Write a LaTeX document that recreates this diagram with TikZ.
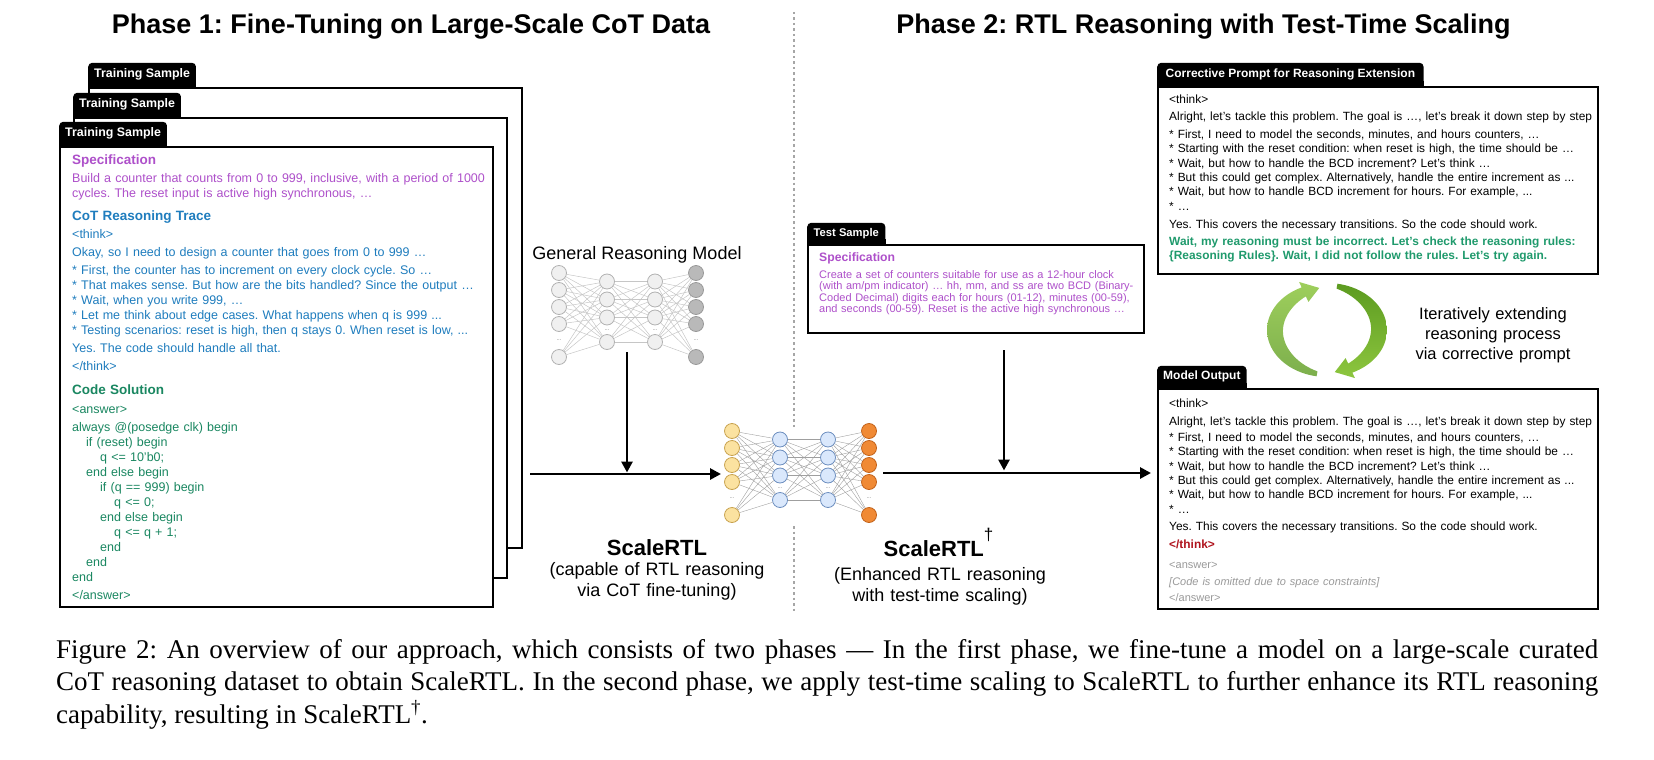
\documentclass[tikz,border=0pt]{standalone}
\usepackage{fontspec}
\setmainfont{Liberation Sans}
\newfontfamily\capfont{Liberation Serif}
\usetikzlibrary{positioning, arrows.meta, calc}
\frenchspacing

\definecolor{specpurple}{HTML}{AE50CA}
\definecolor{cotblue}{HTML}{1F7DBE}
\definecolor{codegreen}{HTML}{1A8761}
\definecolor{rulegreen}{HTML}{1F9A6C}
\definecolor{thinkred}{HTML}{B0141E}
\definecolor{answergray}{HTML}{9A9A9A}
\definecolor{loopgreen}{HTML}{8DC63F}
\definecolor{loopdark}{HTML}{5C9B20}
\definecolor{inyellow}{HTML}{FBE2A0}
\definecolor{inyellowline}{HTML}{C8A24E}
\definecolor{hidblue}{HTML}{DAE8FC}
\definecolor{hidblueline}{HTML}{6C8EBF}
\definecolor{outorange}{HTML}{F08A35}
\definecolor{outorangeline}{HTML}{C2621A}

\newcommand{\fsz}[2]{\fontsize{#1}{#2}\selectfont}

% network: prefix, x, y, input style, hidden style, output style, edge style
\newcommand{\drawnet}[7]{%
  \foreach \r/\dy in {1/0, 2/17, 3/34, 4/51, 5/84} {
    \node[neuron, #4] (#1-1-\r) at (#2, #3+\dy) {};
    \node[neuron, #6] (#1-4-\r) at (#2+137, #3+\dy) {};
  }
  \foreach \r/\dy in {1/8.5, 2/26.5, 3/44.5, 4/69} {
    \node[neuron, #5] (#1-2-\r) at (#2+48, #3+\dy) {};
    \node[neuron, #5] (#1-3-\r) at (#2+96, #3+\dy) {};
  }
  \node[netdots] (#1-d1) at (#2, #3+67.5) {...};
  \node[netdots] (#1-d2) at (#2+48, #3+57.5) {...};
  \node[netdots] (#1-d3) at (#2+96, #3+57.5) {...};
  \node[netdots] (#1-d4) at (#2+137, #3+67.5) {...};
  \foreach \a in {1,...,5} \foreach \b in {1,...,4} {
    \draw[#7] (#1-1-\a) -- (#1-2-\b);
    \draw[#7] (#1-4-\a) -- (#1-3-\b);
  }
  \foreach \a in {1,...,4} \foreach \b in {1,...,4}
    \draw[#7] (#1-2-\a) -- (#1-3-\b);
}

% curved loop arrow: start angle, head angle, tip angle, fill style
\newcommand{\looparrow}[4]{%
  \path[#4]
    plot[domain=#1:#2, samples=40, variable=\t]
      ({1327+60*cos(\t)}, {330+47*sin(\t)})
    -- ({1327+66*cos(#2)}, {330+53*sin(#2)})
    -- ({1327+55.5*cos(#3)}, {330+42.5*sin(#3)})
    -- ({1327+44*cos(#2)}, {330+31*sin(#2)})
    -- plot[domain=#2:#1, samples=40, variable=\t]
      ({1327+(55-11*sin((\t-#1)*1.0588))*cos(\t)},
       {330+(42-11*sin((\t-#1)*1.0588))*sin(\t)})
    -- cycle;
}

\begin{document}
\begin{tikzpicture}[
    x=1pt, y=-1pt,
    phase/.style={anchor=base, inner sep=0pt, font=\bfseries\fsz{27}{30}},
    panel/.style={draw=black, line width=2pt, fill=white, anchor=north west, inner sep=0pt},
    tab/.style={fill=black, text=white, anchor=south west, rounded corners=4pt,
                inner xsep=6pt, inner ysep=0pt, font=\bfseries\fsz{12.4}{14}},
    body/.style={anchor=base west, inner sep=0pt, align=left},
    notetext/.style={anchor=base, inner sep=0pt, align=center},
    neuron/.style={circle, minimum size=15pt, inner sep=0pt, line width=0.8pt},
    gin/.style={fill=gray!12, draw=gray!60},
    gout/.style={fill=gray!55, draw=gray!80},
    sin/.style={fill=inyellow, draw=inyellowline},
    shid/.style={fill=hidblue, draw=hidblueline},
    sout/.style={fill=outorange, draw=outorangeline},
    gedge/.style={draw=gray!45, line width=0.5pt},
    sedge/.style={draw=gray!75, line width=0.4pt},
    netdots/.style={font=\fsz{6}{6}, text=gray, inner sep=0pt},
    arrow/.style={line width=2.8pt, -{Triangle[length=11pt, width=11pt]}},
    divider/.style={draw=gray!70, line width=2.5pt, dash pattern=on 2.5pt off 3pt},
    figcaption/.style={anchor=base west, inner sep=0pt, text width=1542pt,
                       align=justify, font=\capfont\fsz{27}{32.5}}
  ]
    \useasboundingbox (0,0) rectangle (1654,760);

    % Phase titles and divider
    \node[phase] (phase1) at (411,34) {Phase 1: Fine-Tuning on Large-Scale CoT Data};
    \node[phase] (phase2) at (1203.5,34) {Phase 2: RTL Reasoning with Test-Time Scaling};
    \coordinate (div-top) at (794,12);
    \coordinate (div-gap1) at (794,428);
    \coordinate (div-gap2) at (794,526);
    \coordinate (div-bot) at (794,612);
    \draw[divider] (div-top) -- (div-gap1);
    \draw[divider] (div-gap2) -- (div-bot);

    % Training sample stack
    \node[panel, minimum width=433pt, minimum height=460pt] (train-back) at (88,87) {};
    \node[tab, minimum height=24pt] (train-back-tab) at (train-back.north west) {Training Sample};
    \fill (train-back-tab.south west) rectangle ([yshift=5pt]train-back-tab.south east);
    \node[panel, minimum width=433pt, minimum height=460pt] (train-mid) at (73,117) {};
    \node[tab, minimum height=24pt] (train-mid-tab) at (train-mid.north west) {Training Sample};
    \fill (train-mid-tab.south west) rectangle ([yshift=5pt]train-mid-tab.south east);
    \node[panel, minimum width=433pt, minimum height=460pt] (train-front) at (59,146) {};
    \node[tab, minimum height=24pt] (train-front-tab) at (train-front.north west) {Training Sample};
    \fill (train-front-tab.south west) rectangle ([yshift=5pt]train-front-tab.south east);

    \node[body, text width=428pt, font=\fsz{12.5}{15}] (train-text) at (72,164) {%
      \color{specpurple}{\fsz{13.5}{15}\bfseries Specification}\\[3.5pt]
      Build a counter that counts from 0 to 999, inclusive, with a period of 1000\\
      cycles. The reset input is active high synchronous, …\\[7.5pt]
      \color{cotblue}{\fsz{13.5}{15}\bfseries CoT Reasoning Trace}\\[3.5pt]
      <think>\\[3pt]
      Okay, so I need to design a counter that goes from 0 to 999 …\\[3pt]
      {*} First, the counter has to increment on every clock cycle. So …\\
      {*} That makes sense. But how are the bits handled? Since the output …\\
      {*} Wait, when you write 999, …\\
      {*} Let me think about edge cases. What happens when q is 999 ...\\
      {*} Testing scenarios: reset is high, then q stays 0. When reset is low, ...\\[3pt]
      Yes. The code should handle all that.\\[3pt]
      </think>\\[8.5pt]
      \color{codegreen}{\fsz{13.5}{15}\bfseries Code Solution}\\[4.5pt]
      <answer>\\[3pt]
      always @(posedge clk) begin\\
      \hspace*{14pt}if (reset) begin\\
      \hspace*{28pt}q <= 10'b0;\\
      \hspace*{14pt}end else begin\\
      \hspace*{28pt}if (q == 999) begin\\
      \hspace*{42pt}q <= 0;\\
      \hspace*{28pt}end else begin\\
      \hspace*{42pt}q <= q + 1;\\
      \hspace*{28pt}end\\
      \hspace*{14pt}end\\
      end\\[3pt]
      </answer>};

    % General reasoning model
    \node[notetext, font=\fsz{18}{21}] (gen-label) at (637,259) {General Reasoning Model};
    \drawnet{gen}{559}{273}{gin}{gin}{gout}{gedge}

    % ScaleRTL model
    \drawnet{srtl}{732}{431}{sin}{shid}{sout}{sedge}
    \node[notetext, font=\bfseries\fsz{22}{24}] (srtl-name) at (657,555) {ScaleRTL};
    \node[notetext, text width=240pt, font=\fsz{18}{21}] (srtl-note) at (657,575)
      {(capable of RTL reasoning\\via CoT fine-tuning)};

    % Arrows of phase 1
    \coordinate (gen-out) at (627,352);
    \coordinate (stack-out) at (530,474);
    \coordinate (srtl-in) at (721,474);
    \draw[arrow, shorten >=1.5pt] (gen-out) -- (gen-out |- stack-out);
    \draw[arrow] (stack-out) -- (srtl-in);

    % Test sample
    \node[panel, minimum width=336pt, minimum height=88pt] (test-box) at (807,244) {};
    \node[tab, minimum height=21pt, inner xsep=6.5pt, font=\bfseries\fsz{11.2}{13}] (test-tab) at (test-box.north west) {Test Sample};
    \fill (test-tab.south west) rectangle ([yshift=5pt]test-tab.south east);
    \node[body, text width=330pt, font=\fsz{11}{11.5}] (test-text) at (819,261.5) {%
      \lineskiplimit=-20pt\relax
      \color{specpurple}{\fsz{12.2}{12}\bfseries Specification}\\[5pt]
      Create a set of counters suitable for use as a 12-hour clock\\
      (with am/pm indicator) … hh, mm, and ss are two BCD (Binary-\\
      Coded Decimal) digits each for hours (01-12), minutes (00-59),\\
      and seconds (00-59). Reset is the active high synchronous …};

    % ScaleRTL dagger
    \node[notetext, font=\bfseries\fsz{22}{24}] (srtl-plus-name) at (938.5,556)
      {ScaleRTL\raisebox{16pt}{\mdseries\fsz{17}{17}†}};
    \node[notetext, text width=240pt, font=\fsz{18}{21}] (srtl-plus-note) at (940,580.5)
      {(Enhanced RTL reasoning\\with test-time scaling)};

    % Corrective prompt
    \node[panel, minimum width=440pt, minimum height=187pt] (prompt-box) at (1157,86) {};
    \node[tab, minimum height=23pt, inner xsep=8.5pt, font=\bfseries\fsz{12}{14}] (prompt-tab) at (prompt-box.north west) {Corrective Prompt for Reasoning Extension};
    \fill (prompt-tab.south west) rectangle ([yshift=5pt]prompt-tab.south east);
    \node[body, text width=426pt, font=\fsz{11.9}{14.3}] (prompt-text) at (1169,103.5) {%
      <think>\\[2.7pt]
      Alright, let’s tackle this problem. The goal is …, let’s break it down step by step\\[3.7pt]
      {*} First, I need to model the seconds, minutes, and hours counters, …\\
      {*} Starting with the reset condition: when reset is high, the time should be …\\
      {*} Wait, but how to handle the BCD increment? Let’s think …\\
      {*} But this could get complex. Alternatively, handle the entire increment as ...\\
      {*} Wait, but how to handle BCD increment for hours. For example, ...\\
      {*} …\\[3.7pt]
      Yes. This covers the necessary transitions. So the code should work.\\[2.7pt]
      \color{rulegreen}\bfseries Wait, my reasoning must be incorrect. Let's check the reasoning rules:\\
      \{Reasoning Rules\}. Wait, I did not follow the rules. Let's try again.};

    % Model output
    \node[panel, minimum width=440pt, minimum height=220pt] (output-box) at (1157,388) {};
    \node[tab, minimum height=22pt, inner xsep=6pt, font=\bfseries\fsz{12}{14}] (output-tab) at (output-box.north west) {Model Output};
    \fill (output-tab.south west) rectangle ([yshift=5pt]output-tab.south east);
    \node[body, text width=426pt, font=\fsz{11.9}{14.3}] (output-text) at (1169,407.5) {%
      <think>\\[3.7pt]
      Alright, let’s tackle this problem. The goal is …, let’s break it down step by step\\[1.7pt]
      {*} First, I need to model the seconds, minutes, and hours counters, …\\
      {*} Starting with the reset condition: when reset is high, the time should be …\\
      {*} Wait, but how to handle the BCD increment? Let’s think …\\
      {*} But this could get complex. Alternatively, handle the entire increment as ...\\
      {*} Wait, but how to handle BCD increment for hours. For example, ...\\
      {*} …\\[2.7pt]
      Yes. This covers the necessary transitions. So the code should work.\\[3.7pt]
      {\color{thinkred}\bfseries </think>}\\[5.7pt]
      \color{answergray}\fsz{11}{14.3}<answer>\\[2.7pt]
      \itshape {[}Code is omitted due to space constraints{]}\\[1.7pt]
      \upshape </answer>};

    % Arrows of phase 2
    \coordinate (srtl-out) at (883,473);
    \coordinate (test-out) at (1004,350);
    \draw[arrow, shorten >=2.5pt] (test-out) -- (test-out |- srtl-out);
    \draw[arrow, shorten >=6pt] (srtl-out) -- (srtl-out -| output-box.west);

    % Reasoning extension loop
    \looparrow{100}{245}{262}{top color=loopgreen!85, bottom color=loopdark!80}
    \looparrow{280}{425}{442}{top color=loopdark, bottom color=loopgreen}
    \node[notetext, text width=220pt, font=\fsz{16.5}{20}] (loop-note) at (1493,319)
      {Iteratively extending\\reasoning process\\via corrective prompt};

    % Caption
    \node[figcaption] (fig-caption) at (56,658) {Figure 2: An overview of our approach, which consists of two phases — In the first phase, we fine-tune a model on a large-scale curated\linebreak CoT reasoning dataset to obtain ScaleRTL. In the second phase, we apply test-time scaling to ScaleRTL to further enhance its RTL reasoning\linebreak capability, resulting in ScaleRTL\textsuperscript{†}.};

  \end{tikzpicture}
\end{document}
